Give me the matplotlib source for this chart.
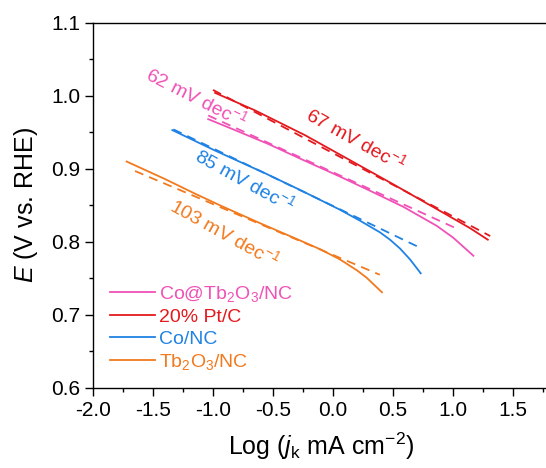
"""
Tafel plots of the ORR catalysts with linear fits.
"""

import matplotlib

matplotlib.use("Agg")
import matplotlib.pyplot as plt
from matplotlib.ticker import MultipleLocator

plt.rcParams["font.family"] = ["Liberation Sans", "DejaVu Sans"]
plt.rcParams["mathtext.fontset"] = "custom"
plt.rcParams["mathtext.rm"] = "Liberation Sans"
plt.rcParams["mathtext.it"] = "Liberation Sans:italic"

# log(jk) / E (V vs. RHE), measured curves
co_tb_x = [-1.04, -0.817, -0.539, -0.261, 0.05, 0.308, 0.586, 0.864, 1.0, 1.17]
co_tb_y = [0.968, 0.953, 0.934, 0.913, 0.890, 0.870, 0.848, 0.822, 0.806, 0.781]

pt_x = [-0.983, -0.65, -0.233, 0.14, 0.5, 0.864, 1.14, 1.29]
pt_y = [1.004, 0.980, 0.946, 0.912, 0.879, 0.845, 0.819, 0.803]

co_x = [-1.339, -0.983, -0.567, -0.261, 0.058, 0.225, 0.392, 0.475,
        0.558, 0.642, 0.731]
co_y = [0.953, 0.925, 0.894, 0.870, 0.844, 0.829, 0.813, 0.803,
        0.791, 0.776, 0.757]

tb_x = [-1.72, -1.4, -1.15, -0.928, -0.6, -0.275, -0.108, 0.058, 0.2, 0.28,
        0.408]
tb_y = [0.910, 0.886, 0.866, 0.849, 0.825, 0.802, 0.790, 0.776, 0.761, 0.751,
        0.731]

# linear Tafel fits (end points)
co_tb_fit_x = [-1.04, 1.02]
co_tb_fit_y = [0.973, 0.819]
pt_fit_x = [-1.0, 1.31]
pt_fit_y = [1.008, 0.808]
co_fit_x = [-1.33, 0.70]
co_fit_y = [0.954, 0.794]
tb_fit_x = [-1.65, 0.39]
tb_fit_y = [0.897, 0.755]

labels = ["Co@Tb$_2$O$_3$/NC", "20% Pt/C", "Co/NC", "Tb$_2$O$_3$/NC"]
slopes = ["62", "67", "85", "103"]
colors = ["#F052B6", "#E4191E", "#1F82E4", "#F27A1E"]

curves = [
    (co_tb_x, co_tb_y, co_tb_fit_x, co_tb_fit_y),
    (pt_x, pt_y, pt_fit_x, pt_fit_y),
    (co_x, co_y, co_fit_x, co_fit_y),
    (tb_x, tb_y, tb_fit_x, tb_fit_y),
]

# where the slope labels sit
slope_pos = [(-1.133, 0.998), (0.192, 0.940), (-0.733, 0.884), (-0.9, 0.813)]
slope_rot = [-27, -29, -29, -29]

fig = plt.figure(figsize=(5.46, 4.68), dpi=100)
ax = fig.add_axes([93 / 546, 80 / 468, 456 / 546, 365.3 / 468])

for (x, y, fx, fy), label, color in zip(curves, labels, colors):
    ax.plot(x, y, color=color, lw=1.3, label=label)
    ax.plot(fx, fy, color=color, lw=1.3, dashes=(5, 3.5))

for (px, py), s, rot, color in zip(slope_pos, slopes, slope_rot, colors):
    ax.text(px, py, f"{s} mV dec$^{{-1}}$", color=color, fontsize=14,
            rotation=rot, rotation_mode="anchor", ha="center", va="center")

ax.set_xlim(-2.0, 1.8)
ax.set_ylim(0.6, 1.1)
ax.xaxis.set_major_locator(MultipleLocator(0.5))
ax.xaxis.set_minor_locator(MultipleLocator(0.25))
ax.yaxis.set_major_locator(MultipleLocator(0.1))
ax.yaxis.set_minor_locator(MultipleLocator(0.05))
ax.xaxis.set_major_formatter(lambda v, p: f"{v:.1f}")
ax.yaxis.set_major_formatter(lambda v, p: f"{v:.1f}")
ax.tick_params(which="major", direction="out", length=6, width=1,
               labelsize=15, pad=3)
ax.tick_params(which="minor", direction="out", length=3, width=1)
ax.spines["right"].set_visible(False)
for sp in ["left", "bottom", "top"]:
    ax.spines[sp].set_linewidth(1)

ax.set_xlabel("Log ($j_\\mathrm{k}$ mA cm$^{-2}$)", fontsize=18, labelpad=8)
ax.set_ylabel("$E$ (V vs. RHE)", fontsize=18, labelpad=8)

leg = ax.legend(loc="lower left", frameon=False, fontsize=14,
                handlelength=2.3, handletextpad=0.25, labelspacing=0.23,
                borderaxespad=0, bbox_to_anchor=(0.02, 0.022))
for text, color in zip(leg.get_texts(), colors):
    text.set_color(color)

fig.savefig("out.png", dpi=100)
